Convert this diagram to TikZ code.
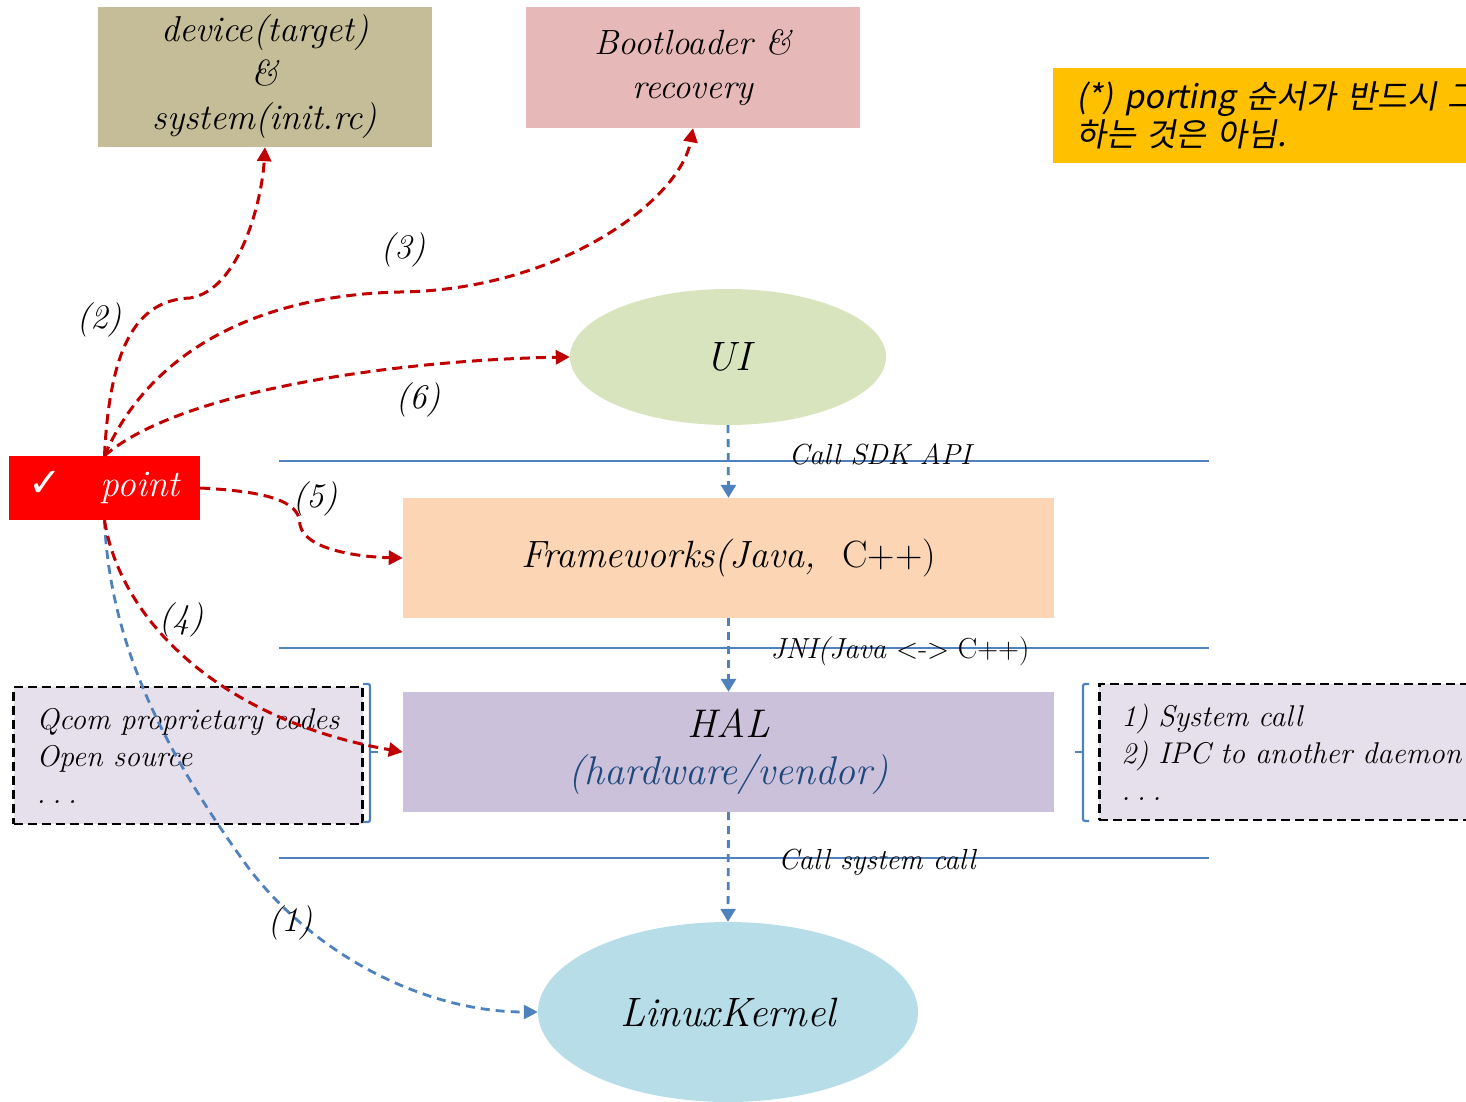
\documentclass[tikz,border=0pt]{standalone}
\usepackage{fontspec}
\newfontfamily\kofont[FakeSlant=0.18]{Noto Sans CJK KR}
\newfontfamily\symfont{DejaVu Sans}
\usetikzlibrary{arrows.meta,shapes.geometric}

\definecolor{tanbox}{HTML}{C4BD97}
\definecolor{pinkbox}{HTML}{E6B9B8}
\definecolor{amber}{HTML}{FFC000}
\definecolor{uigreen}{HTML}{D7E4BD}
\definecolor{peach}{HTML}{FCD5B5}
\definecolor{lilac}{HTML}{CCC1DA}
\definecolor{paleblue}{HTML}{B7DEE8}
\definecolor{palelilac}{HTML}{E6E0EC}
\definecolor{linkblue}{HTML}{4F81BD}
\definecolor{darkred}{HTML}{C00000}
\definecolor{navytext}{HTML}{1F497D}

\newcommand{\fsz}[2]{\fontsize{#1}{#2}\selectfont}
\newcommand{\spaceddots}{.\hspace{0.22em}.\hspace{0.22em}.}

\begin{document}
\begin{tikzpicture}[x=1pt,y=-1pt,
  box/.style={rectangle, inner sep=0pt, align=center},
  dbox/.style={rectangle, draw=black, line width=2.5pt, dash pattern=on 9pt off 5pt,
    fill=palelilac, inner sep=0pt, align=left, font=\fsz{30}{37}\itshape},
  layer/.style={draw=linkblue, line width=2.8pt},
  layertext/.style={font=\fsz{29}{34}\itshape, inner sep=0pt},
  step label/.style={font=\fsz{34.5}{40}\itshape, inner sep=0pt},
  redarrow/.style={draw=darkred, line width=3pt, dash pattern=on 10pt off 6pt,
    -{Triangle[length=14pt,width=14pt]}},
  bluearrow/.style={draw=linkblue, line width=2.8pt, dash pattern=on 9pt off 6pt,
    -{Triangle[length=14pt,width=14pt]}},
  callarrow/.style={draw=linkblue, line width=2.8pt, dash pattern=on 8pt off 6pt,
    -{Triangle[length=13pt,width=15pt]}},
  brace/.style={draw=linkblue, line width=2.2pt, rounded corners=2pt}]

\useasboundingbox (0,0) rectangle (1466,1102);

% top boxes
\node[box, fill=tanbox, minimum width=334pt, minimum height=140pt,
  font=\fsz{36}{44}\itshape] (dev) at (265,77)
  {device(target)\\ \&\\ system(init.rc)};
\node[box, fill=pinkbox, minimum width=334pt, minimum height=121pt,
  font=\fsz{35}{44}\itshape] (boot) at (693,67.5)
  {Bootloader \&\\ recovery};

% boxes running past the right edge
\begin{scope}
  \clip (0,0) rectangle (1466,1102);
  \node[rectangle, fill=amber, anchor=north west, inner xsep=23pt, inner ysep=0pt,
    text width=620pt, minimum height=95pt, align=left,
    font=\kofont\fsz{32.5}{38}] (note) at (1053,68)
    {(*) porting 순서가 반드시 그\\ 하는 것은 아님.};
  \node[dbox, anchor=west, text width=360pt, inner xsep=22pt,
    minimum height=136pt] (sys) at (1098,752)
    {1) System call\\ 2) IPC to another daemon\\ \spaceddots};
\end{scope}

% layers
\node[ellipse, fill=uigreen, minimum width=316pt, minimum height=136pt, inner sep=0pt,
  font=\fsz{41}{46}\itshape] (ui) at (728,357) {UI};
\node[box, fill=peach, minimum width=651pt, minimum height=120pt,
  font=\fsz{38}{44}\itshape] (frame) at (728.5,558)
  {Frameworks(Java,\ \ {\upshape C++)}};
\node[box, fill=lilac, minimum width=651pt, minimum height=120pt,
  font=\fsz{40}{47}\itshape] (hal) at (728.5,752)
  {HAL\\ {\color{navytext}(hardware/vendor)}};
\node[ellipse, fill=paleblue, minimum width=380pt, minimum height=180pt, inner sep=0pt,
  font=\fsz{41}{46}\itshape] (kernel) at (728,1012) {LinuxKernel};

% layer boundaries
\draw[layer] (279,461) -- (1209,461);
\draw[layer] (279,648) -- (1209,648);
\draw[layer] (279,858) -- (1209,858);
\node[layertext] (sdk) at (880,454) {Call SDK API};
\node[layertext] (jni) at (900,651) {JNI(Java {\upshape <-> C++)}};
\node[layertext] (syscall) at (877,862) {Call system call};

% calls between layers
\draw[callarrow] (ui.south) -- (frame.north);
\draw[callarrow] (frame.south) -- (hal.north);
\draw[callarrow] (hal.south) -- (kernel.north);

% side boxes
\node[dbox, minimum width=349pt, minimum height=137pt] (qcom) at (188,755.5)
  {Qcom proprietary codes\\ Open source\\ \spaceddots};
\draw[brace] (363,684) -- (370,684) -- (370,822) -- (363,822);
\draw[brace] (370,752) -- (378,752);
\draw[brace] (1089,684) -- (1083,684) -- (1083,821) -- (1089,821);
\draw[brace] (1083,752) -- (1075,752);

% porting point
\node[rectangle, fill=red, minimum width=191pt, minimum height=64pt, inner sep=0pt,
  text=white] (point) at (104.5,488)
  {{\symfont\bfseries\fsz{40}{44}✓}\hspace{38pt}{\fsz{37.5}{44}\itshape point}};

% porting order
\draw[bluearrow] (point.south) .. controls (110,650) and (170,760) .. (250,870)
  .. controls (320,960) and (430,1012) .. (kernel.west);
\draw[redarrow] (point.north) .. controls (110,340) and (140,300) .. (190,298)
  .. controls (240,290) and (262,200) .. (dev.south);
\draw[redarrow] (point.north) .. controls (150,350) and (260,295) .. (400,292)
  .. controls (560,290) and (680,200) .. (boot.south);
\draw[redarrow] (point.south) .. controls (120,620) and (220,720) .. (hal.west);
\draw[redarrow] (point.east) .. controls (280,492) and (300,505) .. (300,525)
  .. controls (305,550) and (360,557) .. (frame.west);
\draw[redarrow] (point.north) .. controls (180,390) and (400,360) .. (ui.west);

\node[step label] (s1) at (290,923) {(1)};
\node[step label] (s2) at (99,320) {(2)};
\node[step label] (s3) at (403,250) {(3)};
\node[step label] (s4) at (181,620) {(4)};
\node[step label] (s5) at (315,499) {(5)};
\node[step label] (s6) at (418,400) {(6)};
\end{tikzpicture}
\end{document}
